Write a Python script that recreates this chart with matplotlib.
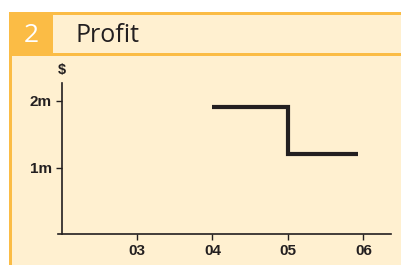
import matplotlib
matplotlib.use("Agg")
import matplotlib.pyplot as plt
from matplotlib.patches import Rectangle

# Data
years = [4.0, 5.0, 5.0, 5.93]
profit = [1.91, 1.91, 1.20, 1.20]
xticks = [3, 4, 5, 6]
xtick_labels = ["03", "04", "05", "06"]
yticks = [1, 2]
ytick_labels = ["1m", "2m"]
title = "Profit"
number = "2"

W, H = 401, 265
ORANGE = "#FBBC45"
LIGHT = "#FFF0D0"
INK = "#231F20"

fig = plt.figure(figsize=(W / 100, H / 100), dpi=100)
fig.patch.set_facecolor("white")

def px_rect(x0, y0, x1, y1, color, z=0):
    fig.patches.append(Rectangle((x0 / W, 1 - y1 / H), (x1 - x0) / W, (y1 - y0) / H,
                                 transform=fig.transFigure, facecolor=color,
                                 edgecolor="none", zorder=z))

px_rect(9, 12, W, H, LIGHT, -3)
px_rect(9, 12, W, 15, ORANGE, -2)
px_rect(9, 53, W, 56, ORANGE, -2)
px_rect(9, 12, 53, 55, ORANGE, -1)
px_rect(9, 55, 12, H, ORANGE, -2)

fig.text(31 / W, 1 - 35 / H, number, color="white", fontsize=19,
         family="Open Sans", ha="center", va="center")
fig.text(76 / W, 1 - 36 / H, title, color=INK, fontsize=18,
         family="Open Sans", ha="left", va="center")

PPU = 75.5
ax = fig.add_axes([58 / W, 1 - 234 / H, (391 - 58) / W, (234 - 83) / H])
ax.set_zorder(5)
ax.patch.set_alpha(0)
ax.set_xlim(2 - 3.5 / PPU, 2 + (391 - 61.5) / PPU)
ax.set_ylim(0, (234 - 83) / 66.5)
ax.plot(years, profit, color=INK, lw=3, solid_joinstyle="miter", solid_capstyle="butt")

for s in ["top", "right"]:
    ax.spines[s].set_visible(False)
ax.spines["left"].set_position(("data", 2))
ax.spines["left"].set_color(INK)
ax.spines["bottom"].set_color(INK)
ax.spines["left"].set_linewidth(1.2)
ax.spines["bottom"].set_linewidth(1.2)

ax.set_xticks(xticks)
ax.set_xticklabels(xtick_labels)
ax.set_yticks(yticks)
ax.set_yticklabels(ytick_labels)
ax.tick_params(direction="out", length=4, width=1, color=INK, pad=3)
for lab in ax.get_xticklabels() + ax.get_yticklabels():
    lab.set_family("Liberation Sans")
    lab.set_fontweight("bold")
    lab.set_fontsize(11)
    lab.set_color(INK)

fig.text(62 / W, 1 - 70 / H, "$", color=INK, fontsize=10.5, family="Liberation Sans",
         fontweight="bold", ha="center", va="center")

fig.savefig("out.png", dpi=100)
